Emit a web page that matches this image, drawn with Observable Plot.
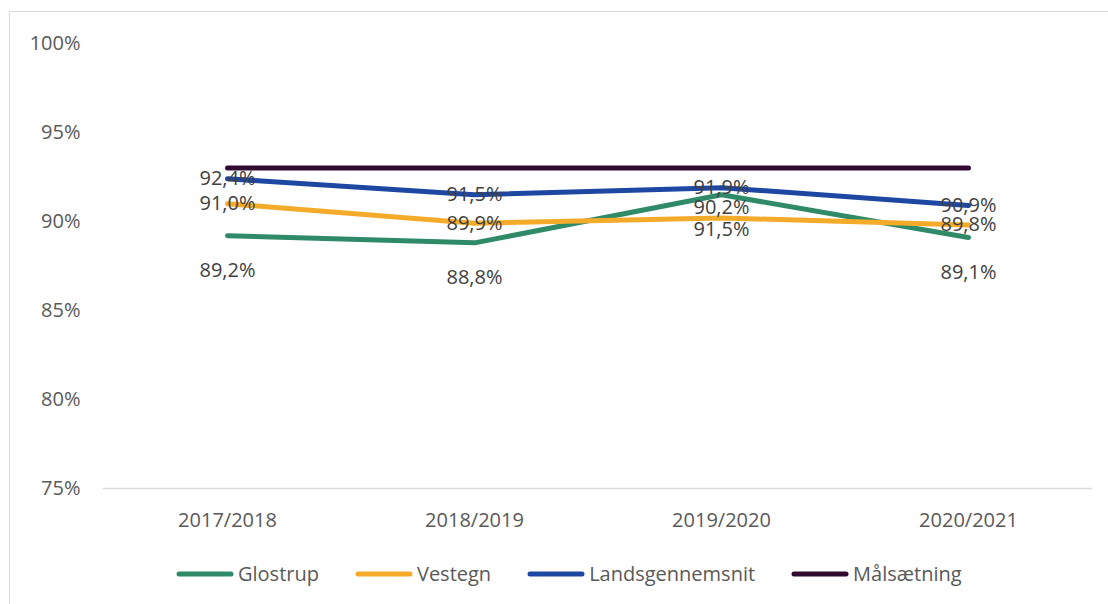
<!DOCTYPE html>
<html>
<head>
<meta charset="utf-8">
<script src="https://cdn.jsdelivr.net/npm/d3@7"></script>
<script src="https://cdn.jsdelivr.net/npm/@observablehq/plot@0.6"></script>
<style>
  html, body { margin: 0; padding: 0; background: #fff; width: 1108px; height: 604px; overflow: hidden; }
  body { position: relative; font-family: "Open Sans", sans-serif; }
  #frame { position: absolute; left: 9px; top: 11px; width: 1120px; height: 700px; border: 1.5px solid #d9d9d9; box-sizing: border-box; pointer-events: none; }
  #chart { position: absolute; left: 0; top: 0; }
  #legend { position: absolute; left: 176px; top: 560px; display: flex; align-items: center; font-size: 20px; color: #595959; white-space: nowrap; }
  .item { display: flex; align-items: center; margin-right: 36px; }
  .item svg { margin-right: 4px; }
</style>
</head>
<body>
<div id="frame"></div>
<div id="chart"></div>
<div id="legend"></div>
<script>
const categories = ["2017/2018", "2018/2019", "2019/2020", "2020/2021"];
const glostrup = [89.2, 88.8, 91.5, 89.1];
const vestegn = [91.0, 89.9, 90.2, 89.8];
const landsgennemsnit = [92.4, 91.5, 91.9, 90.9];
const maalsaetning = [93.0, 93.0, 93.0, 93.0];
const seriesNames = ["Glostrup", "Vestegn", "Landsgennemsnit", "Målsætning"];
const seriesColors = ["#2F8A68", "#F5AB2A", "#1D47A0", "#300A30"];
const yTicks = [75, 80, 85, 90, 95, 100];

const seriesValues = [glostrup, vestegn, landsgennemsnit, maalsaetning];
const rows = [];
seriesNames.forEach((name, si) => {
  seriesValues[si].forEach((v, i) => rows.push({series: name, category: categories[i], value: v, idx: i}));
});
const labelled = rows.filter(d => d.series !== "Målsætning");
const fmt = v => d3.format(".1f")(v).replace(".", ",") + "%";

function labelDy(d) {
  if (d.series === "Glostrup") return 35;
  if (d.series === "Vestegn" && d.idx === 2) return -10;
  return 0;
}

const W = 1108, H = 545;
const lineMarks = seriesNames.map((name, si) =>
  Plot.line(rows.filter(d => d.series === name), {
    x: "category", y: "value", stroke: seriesColors[si],
    strokeWidth: 5, strokeLinecap: "round", strokeLinejoin: "round"
  })
);
const groups = d3.groups(labelled, labelDy);
const textMarks = groups.map(([dy, arr]) =>
  Plot.text(arr, {x: "category", y: "value", text: d => fmt(d.value), dy: dy, fill: "#404040", fontSize: 20})
);

const chart = Plot.plot({
  width: W, height: H,
  marginLeft: 103, marginRight: 16, marginTop: 43, marginBottom: 57,
  style: {fontFamily: "'Open Sans', sans-serif", fontSize: "20px", color: "#595959", background: "transparent"},
  x: {type: "point", domain: categories, padding: 0.5, label: null, tickSize: 0, tickPadding: 24},
  y: {domain: [75, 100], ticks: yTicks, tickFormat: d => d + "%", label: null, tickSize: 0, tickPadding: 23},
  marks: [
    Plot.ruleY([75], {stroke: "#d9d9d9", strokeWidth: 1.5}),
    ...lineMarks,
    ...textMarks
  ]
});
document.getElementById("chart").appendChild(chart);

const legend = document.getElementById("legend");
seriesNames.forEach((name, si) => {
  const item = document.createElement("div");
  item.className = "item";
  item.innerHTML = `<svg width="58" height="10"><line x1="3" y1="5" x2="55" y2="5" stroke="${seriesColors[si]}" stroke-width="5" stroke-linecap="round"/></svg><span>${name}</span>`;
  legend.appendChild(item);
});
</script>
</body>
</html>
